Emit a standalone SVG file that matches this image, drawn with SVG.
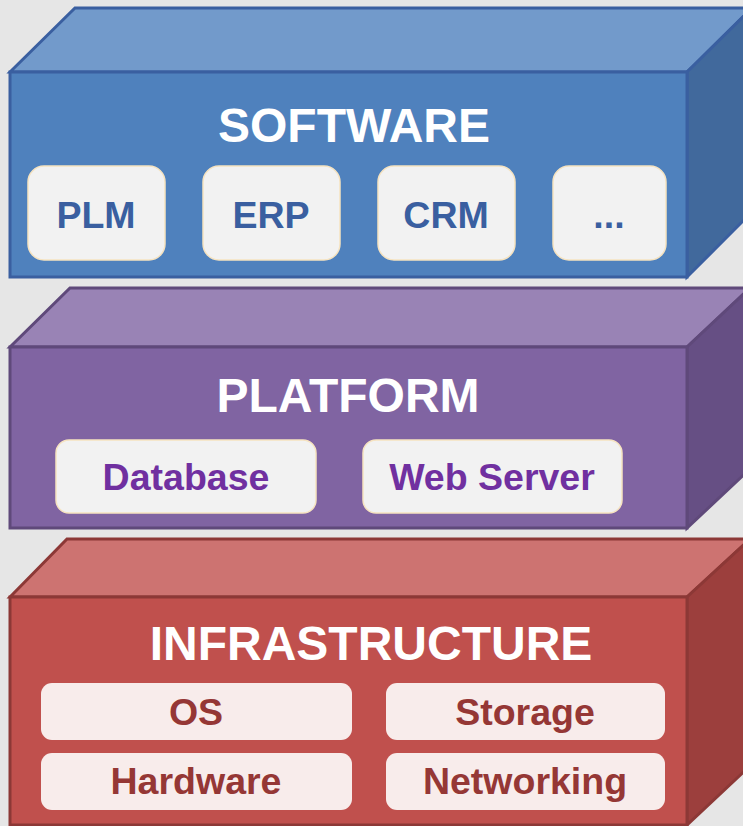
<svg xmlns="http://www.w3.org/2000/svg" width="743" height="826" viewBox="0 0 743 826">
<style>
.face{stroke-width:3;stroke-linejoin:miter}
.sw{stroke:#3A5FA0}
.pf{stroke:#5F497A}
.inf{stroke:#8C3836}
.title{font-family:"Liberation Sans",Arial,sans-serif;font-weight:bold;font-size:48px;fill:#FFFFFF;text-anchor:middle}
.lbl{font-family:"Liberation Sans",Arial,sans-serif;font-weight:bold;font-size:37.5px;text-anchor:middle}
.boxc{fill:#F2F2F2;stroke:#F6E3C0;stroke-width:1.5}
.boxr{fill:#F8ECEB;stroke:none}
</style>
<rect x="0" y="0" width="743" height="826" fill="#E6E6E6"/>

<g id="software">
<polygon class="face sw" points="10,72 75,8 752,8 687,72" fill="#729ACB"/>
<polygon class="face sw" points="687,72 752,8 752,212 687,277" fill="#41699C"/>
<rect class="face sw" x="10" y="72" width="677" height="205" fill="#4F81BD"/>
<text class="title" x="354" y="142">SOFTWARE</text>
<g id="plm"><rect class="boxc" x="28" y="166" width="137" height="94" rx="16"/><text class="lbl" x="96" y="228" fill="#3A5FA0">PLM</text></g>
<g id="erp"><rect class="boxc" x="203" y="166" width="137" height="94" rx="16"/><text class="lbl" x="271" y="228" fill="#3A5FA0">ERP</text></g>
<g id="crm"><rect class="boxc" x="378" y="166" width="137" height="94" rx="16"/><text class="lbl" x="446" y="228" fill="#3A5FA0">CRM</text></g>
<g id="more"><rect class="boxc" x="553" y="166" width="113" height="94" rx="16"/><text class="lbl" x="609" y="228" fill="#3A5FA0">...</text></g>
</g>

<g id="platform">
<polygon class="face pf" points="10,347 70,288 750,288 687,347" fill="#9983B5"/>
<polygon class="face pf" points="687,347 750,288 750,469 687,528" fill="#664F84"/>
<rect class="face pf" x="10" y="347" width="677" height="181" fill="#8064A2"/>
<text class="title" x="348" y="412">PLATFORM</text>
<g id="database"><rect class="boxc" x="56" y="440" width="260" height="73" rx="13"/><text class="lbl" x="186" y="490" fill="#7030A0">Database</text></g>
<g id="webserver"><rect class="boxc" x="363" y="440" width="259" height="73" rx="13"/><text class="lbl" x="492" y="490" fill="#7030A0">Web Server</text></g>
</g>

<g id="infrastructure">
<polygon class="face inf" points="10,597 67,539 750,539 687,597" fill="#CD7371"/>
<polygon class="face inf" points="687,597 750,539 750,766 687,825" fill="#9C3F3D"/>
<rect class="face inf" x="10" y="597" width="677" height="228" fill="#C0504D"/>
<text class="title" x="371" y="660">INFRASTRUCTURE</text>
<g id="os"><rect class="boxr" x="41" y="683" width="311" height="57" rx="11"/><text class="lbl" x="196" y="725" fill="#953735">OS</text></g>
<g id="storage"><rect class="boxr" x="386" y="683" width="279" height="57" rx="11"/><text class="lbl" x="525" y="725" fill="#953735">Storage</text></g>
<g id="hardware"><rect class="boxr" x="41" y="753" width="311" height="57" rx="11"/><text class="lbl" x="196" y="794" fill="#953735">Hardware</text></g>
<g id="networking"><rect class="boxr" x="386" y="753" width="279" height="57" rx="11"/><text class="lbl" x="525" y="794" fill="#953735">Networking</text></g>
</g>

<g id="connectors"></g>
</svg>
